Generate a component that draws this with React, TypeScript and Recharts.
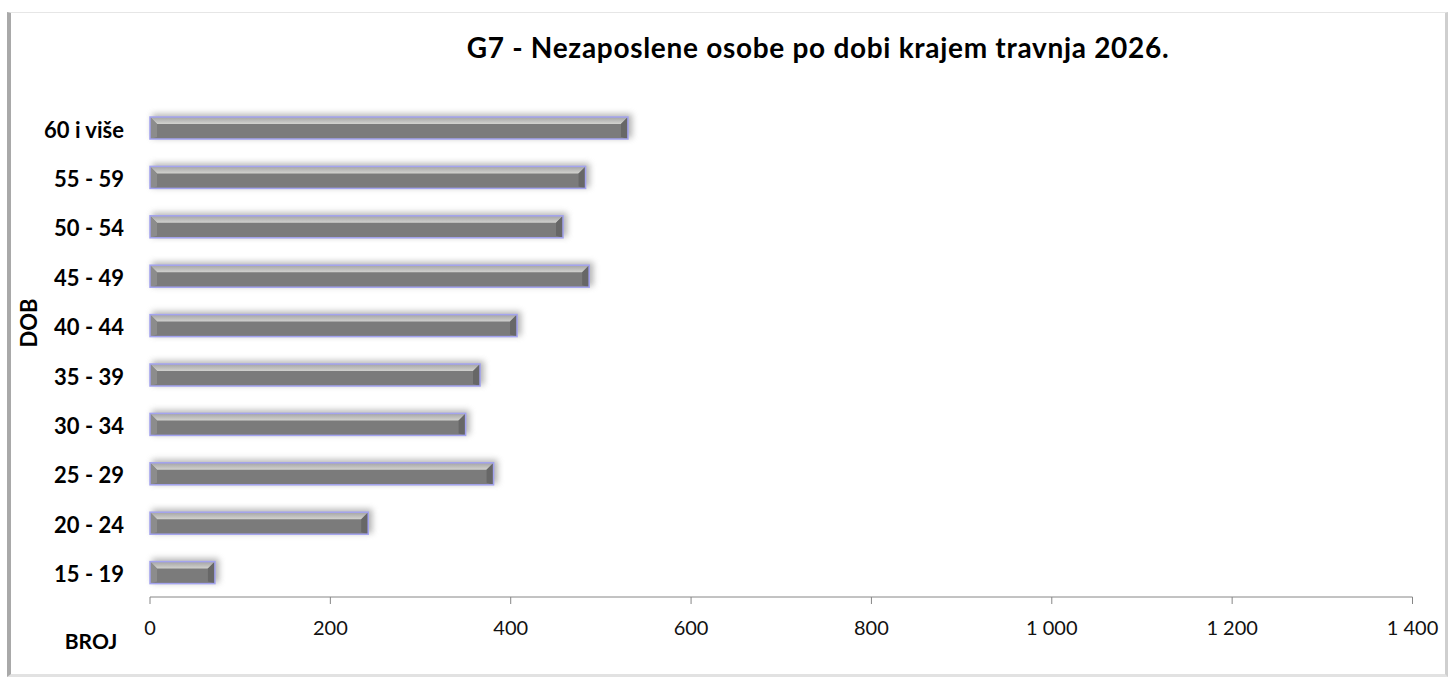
import React from "react";
import { BarChart, Bar, XAxis, YAxis } from "recharts";

const title = "G7 - Nezaposlene osobe po dobi krajem travnja 2026.";
const yAxisTitle = "DOB";
const xAxisTitle = "BROJ";
const categories = ["60 i više", "55 - 59", "50 - 54", "45 - 49", "40 - 44", "35 - 39", "30 - 34", "25 - 29", "20 - 24", "15 - 19"];
const values = [530, 483, 458, 487, 407, 366, 350, 381, 242, 72];
const xTicks = [0, 200, 400, 600, 800, 1000, 1200, 1400];

const data = categories.map((c, i) => ({ age: c, broj: values[i] }));

const FONT = "Lato, 'Open Sans', 'Liberation Sans', sans-serif";

const fmt = (n: number) =>
  n >= 1000 ? `${Math.floor(n / 1000)} ${String(n % 1000).padStart(3, "0")}` : String(n);

const BevelBar = (props: any) => {
  const { x, y, width, height, index } = props;
  if (!width || width <= 0) return null;
  const w = width;
  const h = height;
  const b = Math.min(7, h / 3, w / 3);
  const gid = `top-grad-${index}`;
  const fid = `shadow-${index}`;
  return (
    <g>
      <defs>
        <linearGradient id={gid} x1="0" y1="0" x2="0" y2="1">
          <stop offset="0%" stopColor="#a4a4a4" />
          <stop offset="100%" stopColor="#d2d2cf" />
        </linearGradient>
        <filter id={fid} x="-10%" y="-100%" width="120%" height="300%">
          <feGaussianBlur stdDeviation="3" />
        </filter>
      </defs>
      <rect x={x + 2} y={y - 3} width={w + 2} height={h + 2} fill="#808080" opacity={0.6} filter={`url(#${fid})`} />
      <rect x={x} y={y} width={w} height={h} fill="#7b7b7b" />
      <polygon points={`${x},${y} ${x + w},${y} ${x + w - b},${y + b} ${x + b},${y + b}`} fill={`url(#${gid})`} />
      <polygon points={`${x},${y} ${x + b},${y + b} ${x + b},${y + h - 2} ${x},${y + h}`} fill="#8c8c8c" />
      <polygon points={`${x + w},${y} ${x + w},${y + h} ${x + w - b},${y + h - 2} ${x + w - b},${y + b}`} fill="#676767" />
      <rect x={x} y={y} width={w} height={h} fill="none" stroke="#a3a3ef" strokeWidth={1.5} />
    </g>
  );
};

const CatTick = (props: any) => {
  const { y, payload } = props;
  return (
    <text x={124} y={y} dy="0.45em" textAnchor="end" fontFamily={FONT} fontWeight={700} fontSize={22} fill="#000">
      {payload.value}
    </text>
  );
};

const NumTick = (props: any) => {
  const { x, y, payload } = props;
  return (
    <text x={x} y={y + 29} textAnchor="middle" fontFamily={FONT} fontSize={20} fill="#111">
      {fmt(payload.value)}
    </text>
  );
};

export default function App() {
  return (
    <div style={{ position: "absolute", left: 0, top: 0, width: 1451, height: 680, background: "#fff", overflow: "hidden" }}>
      <div
        style={{
          position: "absolute",
          left: 7,
          top: 12,
          width: 1434,
          height: 661,
          borderTop: "1px solid #e6e6e6",
          borderLeft: "4px solid #a9a9a9",
          borderRight: "3px solid #cfcfcf",
          borderBottom: "3px solid #e2e2e2",
          background: "#fff",
        }}
      />
      <div
        style={{
          position: "absolute",
          left: 0,
          width: 1636,
          top: 30,
          lineHeight: "normal",
          textAlign: "center",
          fontFamily: FONT,
          fontWeight: 700,
          fontSize: 28,
          letterSpacing: 0.7,
          color: "#000",
          whiteSpace: "nowrap",
        }}
      >
        {title}
      </div>
      <div
        style={{
          position: "absolute",
          left: 28,
          top: 323,
          transform: "translate(-50%, -50%) rotate(-90deg)",
          fontFamily: FONT,
          fontWeight: 700,
          fontSize: 22,
          color: "#000",
          whiteSpace: "nowrap",
        }}
      >
        {yAxisTitle}
      </div>
      <div
        style={{
          position: "absolute",
          left: 91,
          top: 640,
          transform: "translate(-50%, -50%)",
          fontFamily: FONT,
          fontWeight: 700,
          fontSize: 21,
          color: "#000",
          whiteSpace: "nowrap",
        }}
      >
        {xAxisTitle}
      </div>
      <div style={{ position: "absolute", left: 0, top: 0 }}>
        <BarChart
          width={1451}
          height={680}
          data={data}
          layout="vertical"
          margin={{ top: 103, right: 38.5, left: 0, bottom: 0 }}
          barSize={22}
        >
          <XAxis
            type="number"
            domain={[0, 1400]}
            ticks={xTicks}
            interval={0}
            height={83}
            stroke="#868686"
            tickSize={7}
            tickMargin={2}
            tick={<NumTick />}
          />
          <YAxis
            type="category"
            dataKey="age"
            width={150}
            axisLine={false}
            tickLine={false}
            tick={<CatTick />}
            interval={0}
          />
          <Bar dataKey="broj" isAnimationActive={false} shape={<BevelBar />} />
        </BarChart>
      </div>
    </div>
  );
}
